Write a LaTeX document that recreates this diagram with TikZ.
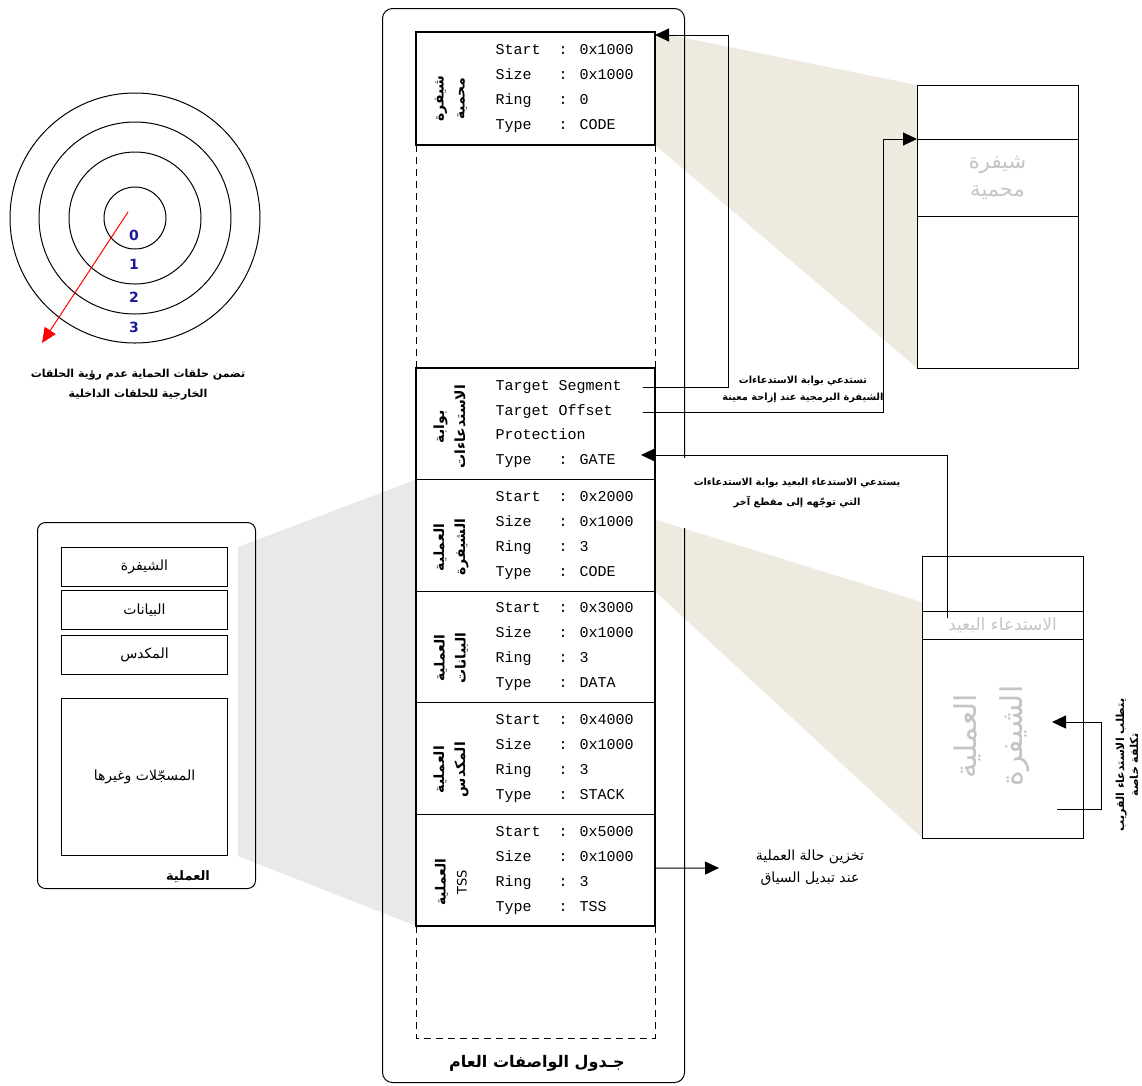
\documentclass[tikz,border=0pt]{standalone}
\usepackage{fontspec}
\setmainfont{DejaVu Sans}
\newfontfamily\arabicfont[Script=Arabic]{DejaVu Sans}
\newfontfamily\fieldfont{Liberation Mono}
\TeXXeTstate=1
\usetikzlibrary{
  arrows.meta,
  positioning,
  backgrounds
}
\definecolor{wedgebeige}{HTML}{EEEAE0}
\definecolor{wedgegray}{HTML}{E9E9E9}
\definecolor{ghosttext}{HTML}{C4C4C4}
\definecolor{ringblue}{HTML}{1A1A99}
\definecolor{ringred}{HTML}{FF0000}
\newcommand{\artxt}[1]{{\arabicfont\beginR #1\endR}}

\begin{document}
\begin{tikzpicture}[
  x=1pt, y=-1pt,
  line width=1pt,
  entry/.style={
    draw, line width=1.1pt, minimum width=239, minimum height=111.6,
    inner sep=0pt, outer sep=0pt
  },
  fields/.style={
    font=\fieldfont\fontsize{15}{25}\selectfont,
    align=left, anchor=west, inner sep=0pt
  },
  fieldline/.style={
    font=\fieldfont\fontsize{15}{15}\selectfont,
    anchor=west, inner sep=0pt, text height=10pt, text depth=3pt
  },
  seglabel/.style={
    rotate=90, align=center, inner sep=0pt,
    font=\arabicfont\bfseries\fontsize{14}{21}\selectfont
  },
  pbox/.style={
    draw, minimum width=166, minimum height=39, inner sep=0pt,
    anchor=north west, font=\arabicfont\fontsize{14}{16}\selectfont
  },
  rrow/.style={
    draw, minimum width=161, inner sep=0pt, outer sep=0pt,
    text=ghosttext, align=center
  },
  note/.style={
    align=center, inner sep=0pt,
    font=\arabicfont\bfseries\fontsize{9.8}{17}\selectfont
  },
  ringnum/.style={
    font=\bfseries\fontsize{14}{16}\selectfont, text=ringblue
  },
  arr/.style={-{Triangle[length=14pt, width=13pt]}},
  redarr/.style={ringred, -{Triangle[length=15pt, width=13pt]}},
  gap/.style={dash pattern=on 7pt off 5pt}
]
\useasboundingbox (0,0) rectangle (1142,1085);

% ---- Protection rings ----
\coordinate (ringc) at (135,218);
\foreach \r in {31,66,96,125}
  \draw (ringc) circle[radius=\r pt];
\node[ringnum] (ring0) at (134,235) {0};
\node[ringnum] (ring1) at (134,264) {1};
\node[ringnum] (ring2) at (134,297) {2};
\node[ringnum] (ring3) at (134,327) {3};
\coordinate (redfrom) at (128,212);
\coordinate (redto) at (42,343);
\draw[redarr] (redfrom) -- (redto);
\node[note, font=\arabicfont\bfseries\fontsize{11}{20}\selectfont] (ringnote) at (138,385)
  {\artxt{تضمن حلقات الحماية عدم رؤية الحلقات}\\\artxt{الخارجية للحلقات الداخلية}};

% ---- Global descriptor table ----
\node[draw, rounded corners=10pt, minimum width=302, minimum height=1074,
  anchor=north west, inner sep=0pt] (gdt) at (382,8) {};
\node[entry, minimum height=113, anchor=north] (gdtcode) at (535.5,32) {};
\node[entry, anchor=north] (gdtgate) at (535.5,368) {};
\node[entry, below=0pt of gdtgate] (gdtpcode) {};
\node[entry, below=0pt of gdtpcode] (gdtpdata) {};
\node[entry, below=0pt of gdtpdata] (gdtpstack) {};
\node[entry, below=0pt of gdtpstack] (gdttss) {};

% empty slots
\draw[gap] (gdtcode.south west) -- (gdtgate.north west);
\draw[gap] (gdtcode.south east) -- (gdtgate.north east);
\draw[gap] (gdttss.south west) -- ++(0,112) -- ++(239,0) -- (gdttss.south east);

% descriptor fields
\node[fields] (codef) at ([xshift=-40.5pt]gdtcode.center)
  {Start~~: 0x1000\\Size~~~: 0x1000\\Ring~~~: 0\\Type~~~: CODE};
\node[fieldline] (gseg) at ([xshift=-40.5pt, yshift=-19pt]gdtgate.north) {Target Segment};
\node[fieldline] (goff) at ([xshift=-40.5pt, yshift=-44pt]gdtgate.north) {Target Offset};
\node[fieldline] (gprot) at ([xshift=-40.5pt, yshift=-68pt]gdtgate.north) {Protection};
\node[fieldline] (gtype) at ([xshift=-40.5pt, yshift=-93pt]gdtgate.north) {Type~~~: GATE};
\node[fields] (pcodef) at ([xshift=-40.5pt]gdtpcode.center)
  {Start~~: 0x2000\\Size~~~: 0x1000\\Ring~~~: 3\\Type~~~: CODE};
\node[fields] (pdataf) at ([xshift=-40.5pt]gdtpdata.center)
  {Start~~: 0x3000\\Size~~~: 0x1000\\Ring~~~: 3\\Type~~~: DATA};
\node[fields] (pstackf) at ([xshift=-40.5pt]gdtpstack.center)
  {Start~~: 0x4000\\Size~~~: 0x1000\\Ring~~~: 3\\Type~~~: STACK};
\node[fields] (tssf) at ([xshift=-40.5pt]gdttss.center)
  {Start~~: 0x5000\\Size~~~: 0x1000\\Ring~~~: 3\\Type~~~: TSS};

% descriptor names
\node[seglabel] (codelbl) at ([xshift=-84.5pt, yshift=-10pt]gdtcode.center)
  {\artxt{شيفرة}\\\artxt{محمية}};
\node[seglabel] (gatelbl) at ([xshift=-86pt, yshift=-3pt]gdtgate.center)
  {\artxt{بوابة}\\\artxt{الاستدعاءات}};
\node[seglabel] (pcodelbl) at ([xshift=-84.5pt, yshift=-12pt]gdtpcode.center)
  {\artxt{العملية}\\\artxt{الشيفرة}};
\node[seglabel] (pdatalbl) at ([xshift=-84.5pt, yshift=-11pt]gdtpdata.center)
  {\artxt{العملية}\\\artxt{البيانات}};
\node[seglabel] (pstacklbl) at ([xshift=-84.5pt, yshift=-11pt]gdtpstack.center)
  {\artxt{العملية}\\\artxt{المكدس}};
\node[seglabel] (tsslbl) at ([xshift=-84.5pt, yshift=-12pt]gdttss.center)
  {\artxt{العملية}\\{\normalfont\fontsize{13}{21}\selectfont TSS}};

\node[font=\arabicfont\bfseries\fontsize{16}{18}\selectfont] (gdttitle) at (537,1063)
  {\artxt{جـدول الواصفات العام}};

% ---- Process ----
\node[draw, rounded corners=8pt, minimum width=218, minimum height=366,
  anchor=north west, inner sep=0pt] (proc) at (37,522) {};
\node[pbox] (pcode) at (61,547) {\artxt{الشيفرة}};
\node[pbox] (pdata) at (61,590) {\artxt{البيانات}};
\node[pbox] (pstack) at (61,635) {\artxt{المكدس}};
\node[pbox, minimum height=157] (pregs) at (61,698) {\artxt{المسجّلات وغيرها}};
\node[font=\arabicfont\bfseries\fontsize{13}{15}\selectfont] (proctitle) at (188,877)
  {\artxt{العملية}};

% ---- Memory: protected code ----
\node[rrow, minimum height=54, anchor=north west] (rtop) at (917,85) {};
\node[rrow, minimum height=77, below=0pt of rtop,
  font=\arabicfont\fontsize{21}{28}\selectfont] (rcode)
  {\artxt{شيفرة}\\\artxt{محمية}};
\node[rrow, minimum height=152, below=0pt of rcode] (rrest) {};

% ---- Memory: process code ----
\node[rrow, minimum height=55, anchor=north west] (rnear) at (922,556) {};
\node[rrow, minimum height=28, below=0pt of rnear,
  font=\arabicfont\fontsize{17}{19}\selectfont] (farrow) {\artxt{الاستدعاء البعيد}};
\node[rrow, minimum height=199, below=0pt of farrow] (rpcode) {};
\node[rotate=90, align=center, inner sep=0pt, text=ghosttext,
  font=\arabicfont\fontsize{30}{46}\selectfont] (rpcodetxt) at (992,736)
  {\artxt{العملية}\\\artxt{الشيفرة}};

% ---- Shaded projections ----
\begin{scope}[on background layer]
  \fill[wedgebeige] (gdtcode.north east) -- (rtop.north west)
    -- (rrest.south west) -- (gdtcode.south east) -- cycle;
  \fill[wedgebeige] ([yshift=-40pt]gdtpcode.north east) -- ([yshift=9pt]farrow.north west)
    -- (rpcode.south west) -- (gdtpcode.south east) -- cycle;
  \fill[wedgegray] ([xshift=10pt]pcode.north east) -- (gdtpcode.north west)
    -- (gdttss.south west) -- ([xshift=10pt]pregs.south east) -- cycle;
\end{scope}

% ---- Calls ----
\coordinate (gateout) at ([xshift=-12pt]gdtgate.east);
\draw[arr] (gseg -| gateout) -- ++(85,0) |- ([yshift=-3pt]gdtcode.north east);
\draw[arr] (goff -| gateout) -- ++(240,0) |- (rcode.north west);
\node[note] (offnote) at (803,389)
  {\artxt{تستدعي بوابة الاستدعاءات}\\\artxt{الشيفرة البرمجية عند إزاحة معينة}};

\coordinate (farfrom) at ([xshift=25pt, yshift=-7pt]farrow.north west);
\draw[arr] (farfrom) |- ([xshift=25pt, yshift=6pt]gtype.east);
\node[note, fill=white, minimum width=235, minimum height=70,
  font=\arabicfont\bfseries\fontsize{9.8}{20}\selectfont] (farnote) at (797,493)
  {\artxt{يستدعي الاستدعاء البعيد بوابة الاستدعاءات}\\\artxt{التي توجّهه إلى مقطع آخر}};

\coordinate (nearfrom) at (1057,809);
\coordinate (nearto) at (1052,722);
\draw[arr] (nearfrom) -- ++(44,0) |- (nearto);
\node[note, rotate=90, font=\arabicfont\bfseries\fontsize{11}{14}\selectfont]
  (nearnote) at (1127,765)
  {\artxt{يتطلب الاستدعاء القريب}\\\artxt{تكلفة خاصة}};

\coordinate (tssto) at (719,868);
\draw[arr] ([yshift=2pt]gdttss.east) -- (tssto);
\node[align=center, inner sep=0pt, font=\arabicfont\fontsize{14}{22}\selectfont]
  (tssnote) at (810,868)
  {\artxt{تخزين حالة العملية}\\\artxt{عند تبديل السياق}};

\end{tikzpicture}
\end{document}
